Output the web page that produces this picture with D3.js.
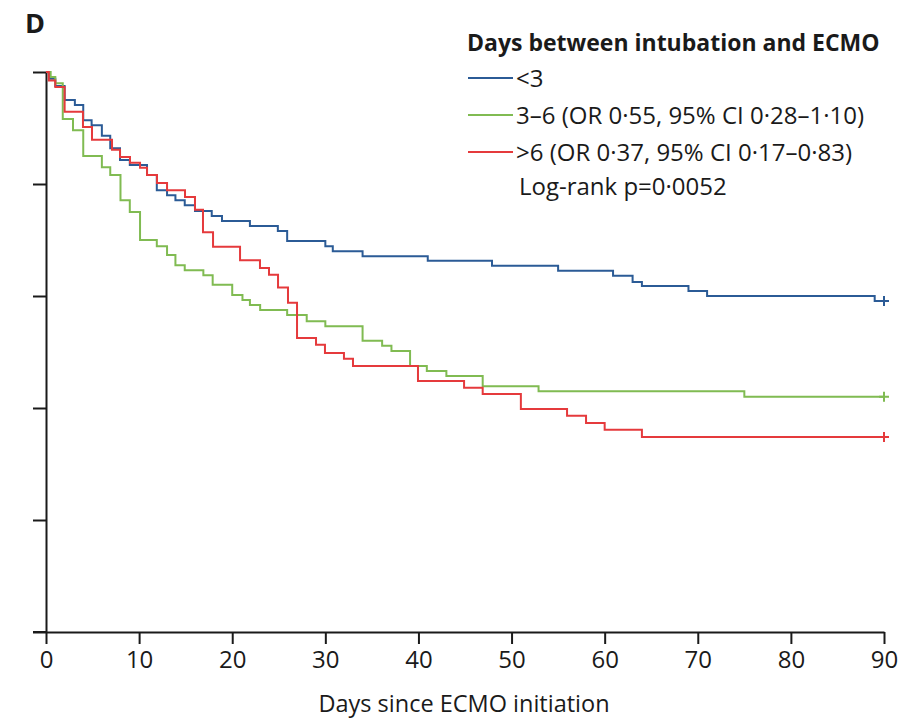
<!DOCTYPE html>
<html>
<head>
<meta charset="utf-8">
<script src="https://cdn.jsdelivr.net/npm/d3@7"></script>
<style>
  body { margin: 0; background: #fff; }
  svg text { font-family: "Open Sans", "Noto Sans", sans-serif; fill: #1a1a1a; }
</style>
</head>
<body>
<svg id="chart" width="910" height="724"></svg>
<script>
// Kaplan-Meier steps: [day, survival]
var groupLessThan3 = [[0,1.0],[0.4,0.988],[1.0,0.975],[2.0,0.950],[3.1,0.941],[4.0,0.914],[4.9,0.905],[6.0,0.886],[6.9,0.864],[7.95,0.843],[9.0,0.834],[10.85,0.816],[11.9,0.789],[13.0,0.780],[13.9,0.771],[14.9,0.762],[16.0,0.752],[17.8,0.743],[18.9,0.734],[21.9,0.725],[24.9,0.716],[25.9,0.698],[30.0,0.689],[30.8,0.680],[34.0,0.671],[41.0,0.663],[47.9,0.654],[55.0,0.645],[60.9,0.636],[63.0,0.625],[64.0,0.618],[69.0,0.609],[71.0,0.600],[89.0,0.591]];
var group3to6 = [[0,1.0],[0.5,0.991],[1.0,0.980],[1.8,0.916],[2.9,0.896],[4.0,0.850],[6.0,0.830],[6.9,0.816],[8.0,0.771],[9.0,0.750],[10.1,0.700],[11.9,0.689],[13.0,0.673],[13.9,0.655],[14.9,0.646],[16.9,0.637],[17.9,0.620],[20.0,0.602],[21.1,0.593],[21.9,0.584],[23.0,0.575],[25.9,0.566],[28.0,0.555],[30.0,0.546],[34.0,0.520],[36.1,0.511],[37.1,0.502],[39.1,0.475],[40.9,0.466],[43.0,0.457],[46.9,0.439],[52.9,0.430],[75.0,0.420]];
var groupMoreThan6 = [[0,1.0],[0.3,0.985],[1.0,0.973],[2.0,0.929],[3.97,0.902],[4.94,0.879],[7.09,0.861],[7.95,0.848],[9.02,0.838],[10.1,0.829],[10.85,0.816],[11.92,0.802],[13.0,0.789],[14.93,0.777],[16.0,0.754],[16.86,0.714],[17.94,0.688],[20.84,0.664],[22.98,0.650],[23.95,0.638],[24.92,0.615],[25.99,0.588],[26.96,0.525],[29.0,0.513],[29.96,0.498],[32.0,0.488],[32.97,0.475],[39.95,0.448],[44.9,0.436],[46.9,0.425],[51.0,0.398],[55.96,0.386],[58.0,0.373],[60.0,0.361],[64.0,0.348]];

var groupNames = ["<3", "3–6 (OR 0·55, 95% CI 0·28–1·10)", ">6 (OR 0·37, 95% CI 0·17–0·83)"];
var groupColors = ["#2b5b96", "#80bb52", "#e53a3c"];
var xTicks = [0, 10, 20, 30, 40, 50, 60, 70, 80, 90];
var yTicks = [0, 0.2, 0.4, 0.6, 0.8, 1.0];
var followUpEnd = 90;

var svg = d3.select("#chart");
var x = d3.scaleLinear().domain([0, 90]).range([46, 884]);
var y = d3.scaleLinear().domain([0, 1]).range([632, 72]);

svg.append("text")
	.attr("x", 25).attr("y", 33)
	.attr("font-size", "27px").attr("font-weight", "bold")
	.text("D");

// y axis, ticks only
svg.append("g")
	.attr("transform", "translate(46,0)")
	.call(d3.axisLeft(y).tickValues(yTicks).tickSize(13).tickSizeOuter(0).tickFormat(""));

var xAxis = svg.append("g")
	.attr("transform", "translate(0,632)")
	.call(d3.axisBottom(x).tickValues(xTicks).tickSize(12).tickSizeOuter(0).tickFormat(d3.format("d")));

svg.selectAll(".domain, .tick line").attr("stroke", "#1a1a1a").attr("stroke-width", 2);
xAxis.selectAll("text")
	.attr("font-size", "24px").attr("y", 36).attr("dy", null)
	.attr("fill", "#1a1a1a");
// x baseline runs left to meet the y ticks
svg.append("line")
	.attr("x1", 33).attr("x2", 46).attr("y1", 632).attr("y2", 632)
	.attr("stroke", "#1a1a1a").attr("stroke-width", 2);

svg.append("text")
	.attr("x", 464).attr("y", 712)
	.attr("text-anchor", "middle").attr("font-size", "23.5px")
	.text("Days since ECMO initiation");

var line = d3.line()
	.x(function(d) { return x(d[0]); })
	.y(function(d) { return y(d[1]); })
	.curve(d3.curveStepAfter);

var groups = [groupLessThan3, group3to6, groupMoreThan6];
groups.forEach(function(g, i) {
	var last = g[g.length - 1];
	var pts = g.concat([[followUpEnd, last[1]]]);
	svg.append("path")
		.attr("d", line(pts))
		.attr("fill", "none")
		.attr("stroke", groupColors[i])
		.attr("stroke-width", 2);
	// censor mark at end of follow-up
	var cx = x(followUpEnd), cy = y(last[1]);
	svg.append("path")
		.attr("d", "M" + (cx - 5) + "," + cy + "H" + (cx + 5) + "M" + cx + "," + (cy - 5) + "V" + (cy + 5))
		.attr("stroke", groupColors[i]).attr("stroke-width", 2);
});

// legend
var legend = svg.append("g");
legend.append("text")
	.attr("x", 467).attr("y", 51)
	.attr("font-size", "23px").attr("font-weight", "bold")
	.text("Days between intubation and ECMO");

groupNames.forEach(function(name, i) {
	var ly = 78 + i * 37;
	legend.append("line")
		.attr("x1", 468).attr("x2", 513).attr("y1", ly).attr("y2", ly)
		.attr("stroke", groupColors[i]).attr("stroke-width", 2);
	legend.append("text")
		.attr("x", 516).attr("y", ly + 9)
		.attr("font-size", "24px")
		.text(name);
});
legend.append("text")
	.attr("x", 519).attr("y", 195)
	.attr("font-size", "24px")
	.text("Log-rank p=0·0052");
</script>
</body>
</html>
